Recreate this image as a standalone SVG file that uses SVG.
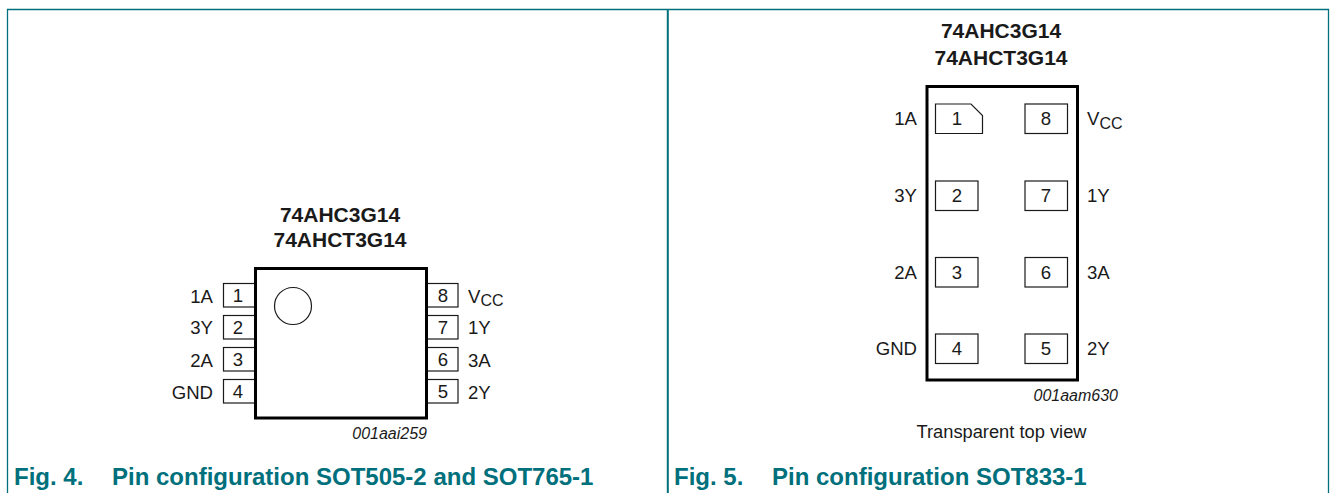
<svg xmlns="http://www.w3.org/2000/svg" width="1330" height="493" viewBox="0 0 1330 493">
<style>
text{font-family:"Liberation Sans",Arial,sans-serif;fill:#1a1a1a}
.t{font-size:21px;font-weight:bold;text-anchor:middle}
.l{font-size:18.6px}
.r{text-anchor:end}
.n{text-anchor:middle}
.s{font-size:16px}
.i{font-size:16px;font-style:italic;text-anchor:end}
.c{font-size:24px;font-weight:bold;fill:#00707c}
.p{fill:#fff;stroke:#1a1a1a;stroke-width:1.2}
.b{fill:#fff;stroke:#000;stroke-width:3}
.f{fill:none;stroke:#00707c}
</style>
<rect width="1330" height="493" fill="#fff"/>
<g id="frame">
<path class="f" d="M7.5 493V9.5H1328.5V493" stroke-width="1.3"/>
<path class="f" d="M667.8 9.5V493" stroke-width="2" stroke="#2f8a98"/>
</g>
<g id="fig4">
<text class="t" x="340" y="222">74AHC3G14</text>
<text class="t" x="340" y="247">74AHCT3G14</text>
<g id="fig4-pins">
<rect class="p" x="223.5" y="283.5" width="32" height="23.5"/>
<rect class="p" x="223.5" y="315.5" width="32" height="23.5"/>
<rect class="p" x="223.5" y="347.5" width="32" height="23.5"/>
<rect class="p" x="223.5" y="379.5" width="32" height="23.5"/>
<rect class="p" x="426" y="283.5" width="32" height="23.5"/>
<rect class="p" x="426" y="315.5" width="32" height="23.5"/>
<rect class="p" x="426" y="347.5" width="32" height="23.5"/>
<rect class="p" x="426" y="379.5" width="32" height="23.5"/>
</g>
<rect id="fig4-body" class="b" x="255.5" y="268.5" width="171" height="149.5"/>
<circle class="p" cx="293" cy="306" r="18.5"/>
<g class="l">
<text class="r" x="213" y="302.5">1A</text>
<text class="r" x="213" y="334">3Y</text>
<text class="r" x="213" y="366.5">2A</text>
<text class="r" x="213" y="399">GND</text>
<text class="n" x="238" y="302">1</text>
<text class="n" x="238" y="333.5">2</text>
<text class="n" x="238" y="366">3</text>
<text class="n" x="238" y="398">4</text>
<text class="n" x="443" y="302">8</text>
<text class="n" x="443" y="333.5">7</text>
<text class="n" x="443" y="366">6</text>
<text class="n" x="443" y="398">5</text>
<text x="468" y="302.5">V<tspan class="s" dy="3.5">CC</tspan></text>
<text x="468" y="334">1Y</text>
<text x="468" y="366.5">3A</text>
<text x="468" y="399">2Y</text>
</g>
<text class="i" x="427" y="439">001aai259</text>
<text class="c" x="14" y="485">Fig. 4.</text>
<text class="c" x="112" y="485">Pin configuration SOT505-2 and SOT765-1</text>
</g>
<g id="fig5">
<text class="t" x="1001" y="38">74AHC3G14</text>
<text class="t" x="1001" y="64.5">74AHCT3G14</text>
<rect id="fig5-body" class="b" x="927" y="86.5" width="150.5" height="293.5"/>
<g id="fig5-pins">
<path class="p" d="M935.5 104H971L982.5 115.5V133.5H935.5Z"/>
<rect class="p" x="935.5" y="181" width="42.5" height="29.5"/>
<rect class="p" x="935.5" y="257.5" width="42.5" height="29.5"/>
<rect class="p" x="935.5" y="334" width="42.5" height="29.5"/>
<rect class="p" x="1025" y="104" width="42.5" height="29.5"/>
<rect class="p" x="1025" y="181" width="42.5" height="29.5"/>
<rect class="p" x="1025" y="257.5" width="42.5" height="29.5"/>
<rect class="p" x="1025" y="334" width="42.5" height="29.5"/>
</g>
<g class="l">
<text class="r" x="917" y="125">1A</text>
<text class="r" x="917" y="201.5">3Y</text>
<text class="r" x="917" y="278.5">2A</text>
<text class="r" x="917" y="355">GND</text>
<text class="n" x="957" y="125">1</text>
<text class="n" x="957" y="201.5">2</text>
<text class="n" x="957" y="278.5">3</text>
<text class="n" x="957" y="355">4</text>
<text class="n" x="1046" y="125">8</text>
<text class="n" x="1046" y="201.5">7</text>
<text class="n" x="1046" y="278.5">6</text>
<text class="n" x="1046" y="355">5</text>
<text x="1087" y="125">V<tspan class="s" dy="3.5">CC</tspan></text>
<text x="1087" y="201.5">1Y</text>
<text x="1087" y="278.5">3A</text>
<text x="1087" y="355">2Y</text>
</g>
<text class="i" x="1118" y="401">001aam630</text>
<text x="1001.5" y="437.5" font-size="18.3" text-anchor="middle">Transparent top view</text>
<text class="c" x="674" y="485">Fig. 5.</text>
<text class="c" x="772" y="485">Pin configuration SOT833-1</text>
</g>
</svg>
